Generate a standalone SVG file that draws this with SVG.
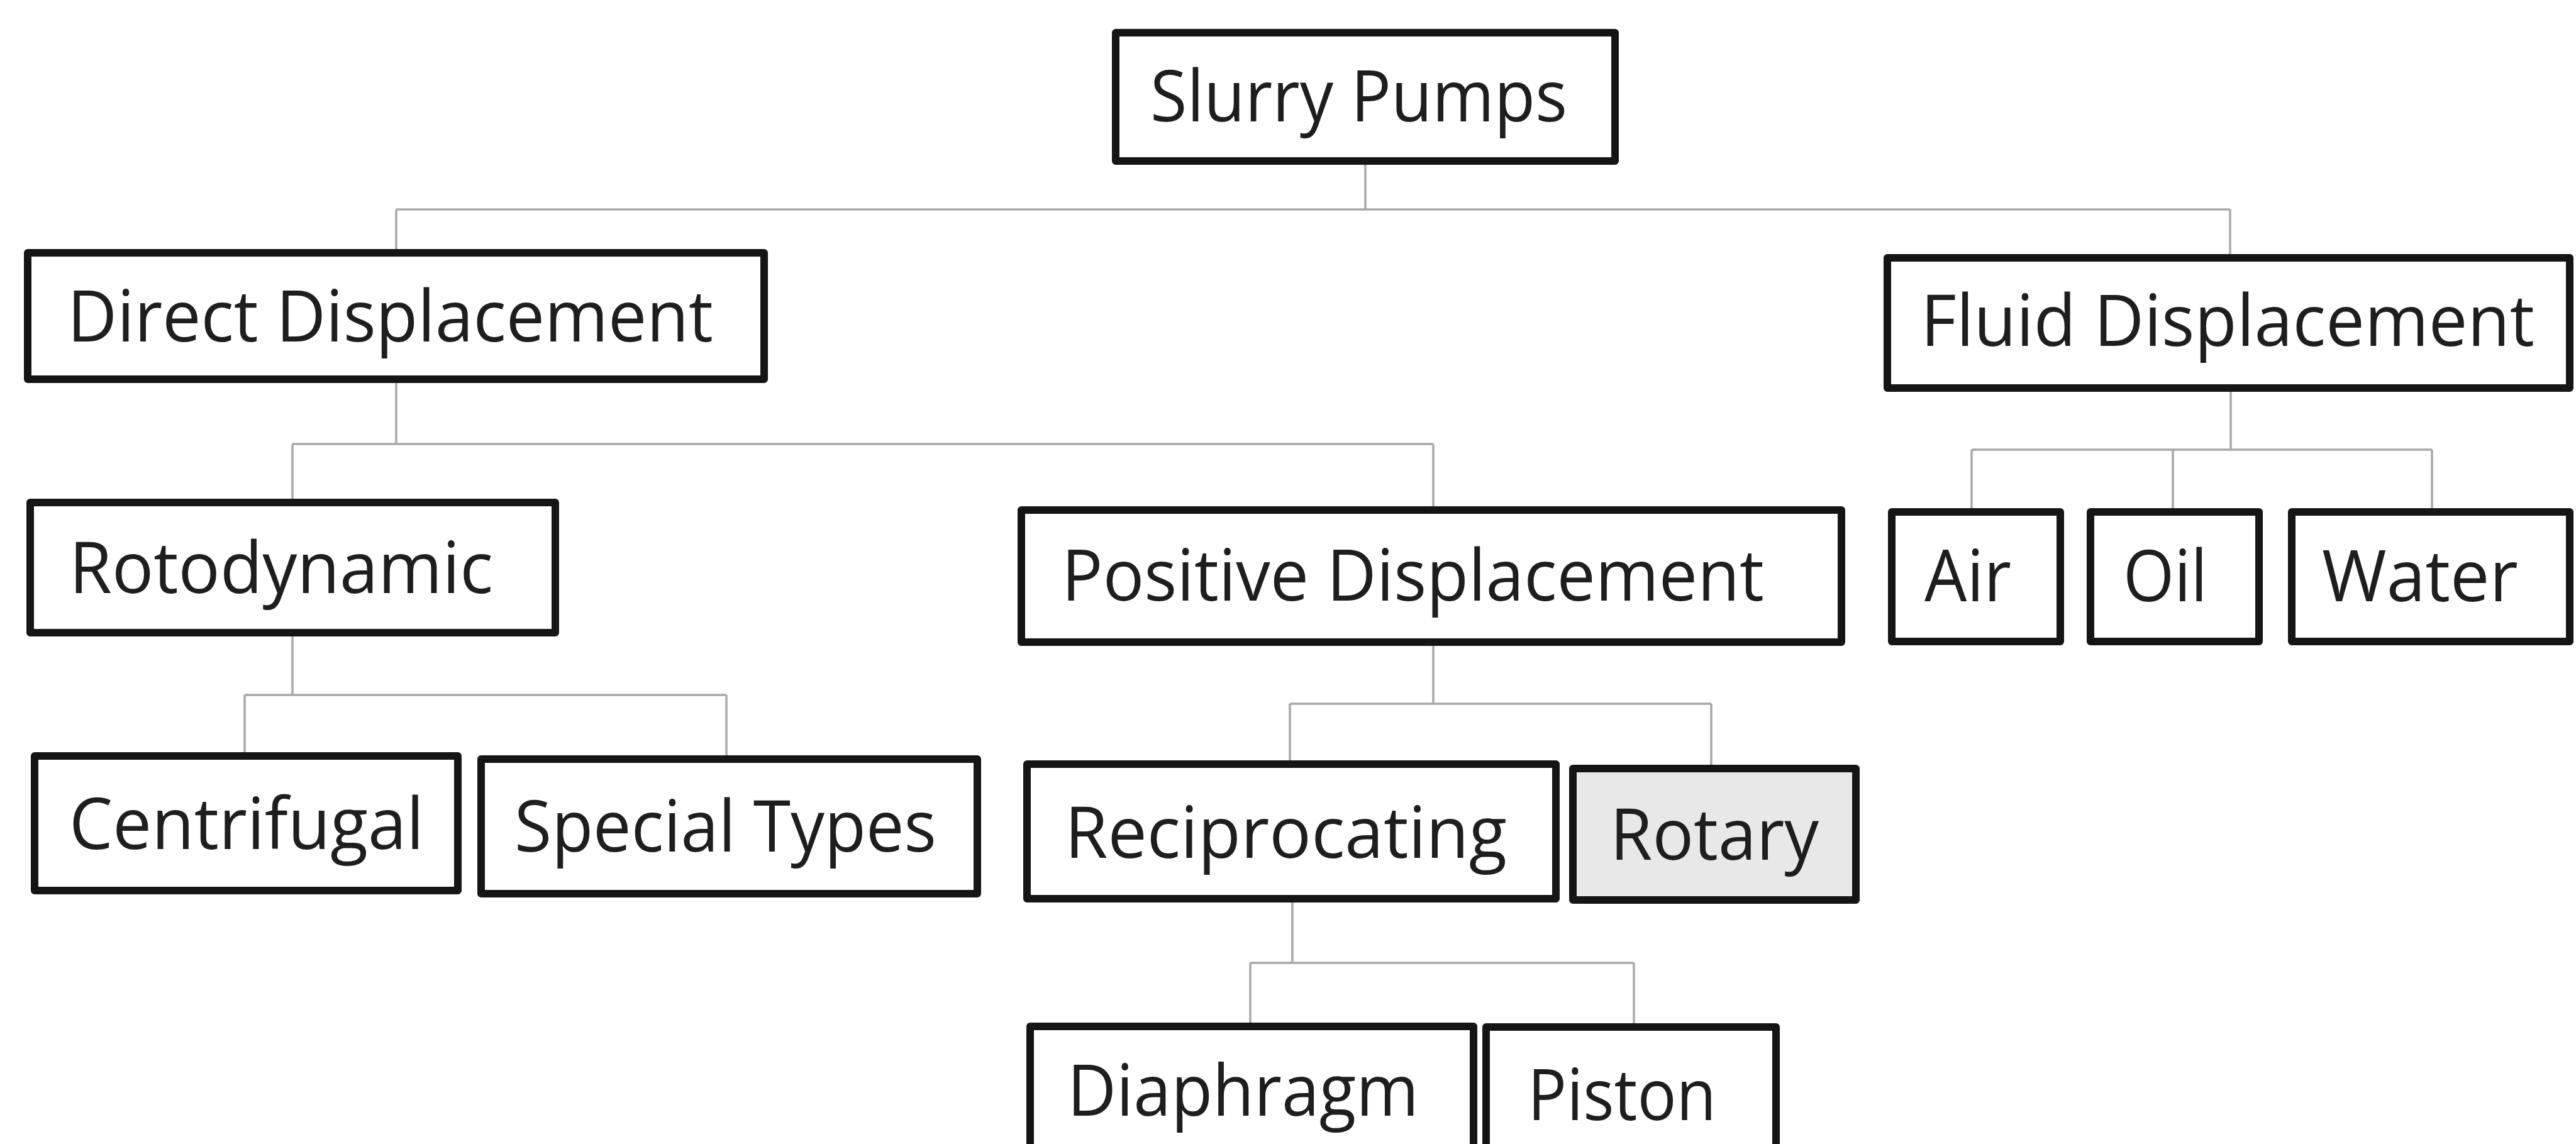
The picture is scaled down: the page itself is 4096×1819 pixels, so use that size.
<svg xmlns="http://www.w3.org/2000/svg" width="4096" height="1819" viewBox="0 0 4096 1819">
<style>
.box{fill:#ffffff;stroke:#151515;stroke-width:12;stroke-linejoin:round}
.gray{fill:#e8e8e8}
.lbl{font-family:"Open Sans","Liberation Sans",sans-serif;font-size:114px;fill:#1e1e1e}
.conn{fill:none;stroke:#a8a8a8;stroke-width:3.5}
</style>
<rect x="0" y="0" width="4096" height="1819" fill="#ffffff"/>
<g id="connectors">
<path class="conn" d="M2171 256 V333 M630 333 H3546 M630 333 V402 M3546 333 V410"/>
<path class="conn" d="M630 603 V706 M465 706 H2279 M465 706 V799 M2279 706 V811"/>
<path class="conn" d="M3547 617 V715 M3135 715 H3867 M3135 715 V814 M3455 715 V814 M3867 715 V814"/>
<path class="conn" d="M465 1006 V1105 M389 1105 H1155 M389 1105 V1202 M1155 1105 V1207"/>
<path class="conn" d="M2279 1021 V1119 M2051 1119 H2721 M2051 1119 V1215 M2721 1119 V1222"/>
<path class="conn" d="M2055 1429 V1531 M1988 1531 H2598 M1988 1531 V1632 M2598 1531 V1633"/>
</g>
<g id="slurry-pumps">
<rect class="box" x="1774" y="52" width="794" height="204"/>
<text class="lbl" x="1829" y="193" textLength="663" lengthAdjust="spacingAndGlyphs">Slurry Pumps</text>
</g>
<g id="direct-displacement">
<rect class="box" x="44" y="402" width="1171" height="201"/>
<text class="lbl" x="107" y="543" textLength="1027" lengthAdjust="spacingAndGlyphs">Direct Displacement</text>
</g>
<g id="fluid-displacement">
<rect class="box" x="3001" y="410" width="1085" height="207"/>
<text class="lbl" x="3054" y="550" textLength="976" lengthAdjust="spacingAndGlyphs">Fluid Displacement</text>
</g>
<g id="rotodynamic">
<rect class="box" x="48" y="799" width="835" height="207"/>
<text class="lbl" x="110" y="943" textLength="674" lengthAdjust="spacingAndGlyphs">Rotodynamic</text>
</g>
<g id="positive-displacement">
<rect class="box" x="1624" y="811" width="1304" height="210"/>
<text class="lbl" x="1688" y="955" textLength="1117" lengthAdjust="spacingAndGlyphs">Positive Displacement</text>
</g>
<g id="air">
<rect class="box" x="3008" y="814" width="268" height="206"/>
<text class="lbl" x="3060" y="956" textLength="138" lengthAdjust="spacingAndGlyphs">Air</text>
</g>
<g id="oil">
<rect class="box" x="3324" y="814" width="268" height="206"/>
<text class="lbl" x="3376" y="956" textLength="134" lengthAdjust="spacingAndGlyphs">Oil</text>
</g>
<g id="water">
<rect class="box" x="3644" y="814" width="442" height="206"/>
<text class="lbl" x="3692" y="956" textLength="312" lengthAdjust="spacingAndGlyphs">Water</text>
</g>
<g id="centrifugal">
<rect class="box" x="55" y="1202" width="673" height="214"/>
<text class="lbl" x="110" y="1350" textLength="564" lengthAdjust="spacingAndGlyphs">Centrifugal</text>
</g>
<g id="special-types">
<rect class="box" x="765" y="1207" width="789" height="214"/>
<text class="lbl" x="818" y="1354" textLength="671" lengthAdjust="spacingAndGlyphs">Special Types</text>
</g>
<g id="reciprocating">
<rect class="box" x="1633" y="1215" width="841" height="214"/>
<text class="lbl" x="1693" y="1364" textLength="703" lengthAdjust="spacingAndGlyphs">Reciprocating</text>
</g>
<g id="rotary">
<rect class="box gray" x="2501" y="1222" width="450" height="209"/>
<text class="lbl" x="2560" y="1367" textLength="332" lengthAdjust="spacingAndGlyphs">Rotary</text>
</g>
<g id="diaphragm">
<rect class="box" x="1638" y="1632" width="705" height="260"/>
<text class="lbl" x="1697" y="1774" textLength="559" lengthAdjust="spacingAndGlyphs">Diaphragm</text>
</g>
<g id="piston">
<rect class="box" x="2363" y="1633" width="461" height="260"/>
<text class="lbl" x="2429" y="1781" textLength="300" lengthAdjust="spacingAndGlyphs">Piston</text>
</g>
</svg>
